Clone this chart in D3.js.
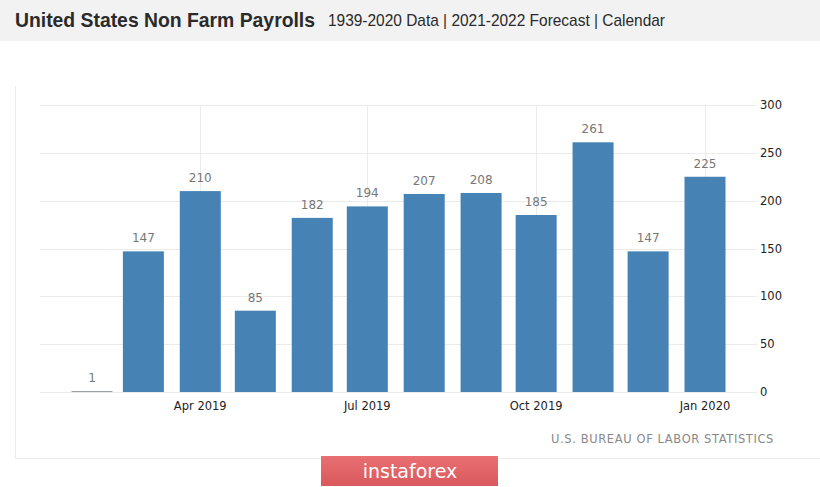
<!DOCTYPE html>
<html><head><meta charset="utf-8">
<script src="https://cdn.jsdelivr.net/npm/d3@7"></script>
<style>
html,body{margin:0;padding:0;background:#fff;}
svg{display:block;}
</style></head>
<body>
<svg id="c" width="820" height="487"></svg>
<script>
const months = ["2019-02","2019-03","2019-04","2019-05","2019-06","2019-07","2019-08","2019-09","2019-10","2019-11","2019-12","2020-01"];
const values = [1,147,210,85,182,194,207,208,185,261,147,225];
const xTicks = ["2019-04","2019-07","2019-10","2020-01"];
const xTickLabels = ["Apr 2019","Jul 2019","Oct 2019","Jan 2020"];
const yTicks = [0,50,100,150,200,250,300];
const title = "United States Non Farm Payrolls";
const subtitle = "1939-2020 Data | 2021-2022 Forecast | Calendar";
const source = "U.S. BUREAU OF LABOR STATISTICS";

const parse = d3.timeParse("%Y-%m");
const svg = d3.select("#c");

// header
svg.append("rect").attr("x",0).attr("y",0).attr("width",820).attr("height",41).attr("fill","#f2f2f2");
svg.append("text").attr("x",15).attr("y",27).attr("font-family","Liberation Sans Narrow, Liberation Sans, Arial, sans-serif")
  .attr("font-weight","bold").attr("font-size",21).attr("fill","#2a2a2a")
  .attr("textLength",300).attr("lengthAdjust","spacingAndGlyphs").text(title);
svg.append("text").attr("x",328).attr("y",26).attr("font-family","Liberation Sans Narrow, Liberation Sans, Arial, sans-serif")
  .attr("font-size",17).attr("fill","#2a2a2a")
  .attr("textLength",337).attr("lengthAdjust","spacingAndGlyphs").text(subtitle);

// panel border
svg.append("line").attr("x1",15.5).attr("x2",15.5).attr("y1",86).attr("y2",459).attr("stroke","#ececec");
svg.append("line").attr("x1",15).attr("x2",820).attr("y1",458.5).attr("y2",458.5).attr("stroke","#ececec");

const x = d3.scaleTime().domain([parse("2019-02"), parse("2020-01")]).range([92, 705]);
const y = d3.scaleLinear().domain([0,300]).range([392,105]);
const bw = 41;

// horizontal grid
svg.append("g").selectAll("line").data(yTicks).join("line")
  .attr("x1",40).attr("x2",757).attr("y1",d=>Math.round(y(d))+0.5).attr("y2",d=>Math.round(y(d))+0.5)
  .attr("stroke","#ebebeb");
// vertical grid
svg.append("g").selectAll("line").data(xTicks).join("line")
  .attr("x1",d=>Math.round(x(parse(d)))+0.5).attr("x2",d=>Math.round(x(parse(d)))+0.5)
  .attr("y1",y(300)).attr("y2",y(0)).attr("stroke","#ebebeb");

// bars
svg.append("g").selectAll("rect").data(values).join("rect")
  .attr("x",(d,i)=>x(parse(months[i]))-bw/2)
  .attr("width",bw)
  .attr("y",d=>y(d))
  .attr("height",d=>Math.max(1,y(0)-y(d)))
  .attr("fill",(d,i)=> d<5 ? "#9a9fa6" : "#4682b4");

// value labels
svg.append("g").selectAll("text").data(values).join("text")
  .attr("x",(d,i)=>x(parse(months[i])))
  .attr("y",d=>y(d)-9)
  .attr("text-anchor","middle")
  .attr("font-family","DejaVu Sans, Verdana, sans-serif")
  .attr("font-size",12).attr("fill","#777")
  .text(d=>d);

// x axis labels
svg.append("g").selectAll("text").data(xTicks).join("text")
  .attr("x",d=>x(parse(d)))
  .attr("y",410)
  .attr("text-anchor","middle")
  .attr("font-family","DejaVu Sans, Verdana, sans-serif")
  .attr("font-size",11.5).attr("fill","#222")
  .text((d,i)=>xTickLabels[i]);

// y axis labels
svg.append("g").selectAll("text").data(yTicks).join("text")
  .attr("x",760)
  .attr("y",d=>y(d))
  .attr("dy","0.35em")
  .attr("font-family","DejaVu Sans, Verdana, sans-serif")
  .attr("font-size",11.5).attr("fill","#222")
  .text(d=>d);

// source
svg.append("text").attr("x",774).attr("y",443).attr("text-anchor","end")
  .attr("font-family","DejaVu Sans, Verdana, sans-serif").attr("font-size",11.5)
  .attr("fill","#888").attr("letter-spacing",0.6).text(source);

// badge
const defs = svg.append("defs");
const g = defs.append("linearGradient").attr("id","bg").attr("x1",0).attr("x2",0).attr("y1",0).attr("y2",1);
g.append("stop").attr("offset","0%").attr("stop-color","#e96f72");
g.append("stop").attr("offset","100%").attr("stop-color","#d9595d");
svg.append("rect").attr("x",321).attr("y",456).attr("width",177).attr("height",30).attr("fill","url(#bg)");
svg.append("text").attr("x",410).attr("y",478).attr("text-anchor","middle")
  .attr("font-family","DejaVu Sans, Verdana, sans-serif").attr("font-size",19)
  .attr("fill","#fff").text("instaforex");
</script>
</body></html>
